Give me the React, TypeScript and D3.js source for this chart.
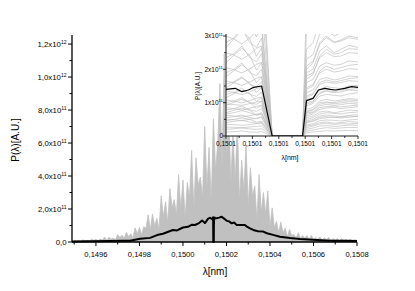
import React from 'react';
import * as d3 from 'd3';

const W = 415;
const H = 291;
const FONT = 'Liberation Sans, Arial, Helvetica, sans-serif';

// ---------- main panel ----------
const mainXTicks = [0.1496, 0.1498, 0.15, 0.1502, 0.1504, 0.1506, 0.1508];
const mainXTickLabels = ['0,1496', '0,1498', '0,1500', '0,1502', '0,1504', '0,1506', '0,1508'];
const mainXMinor = [0.1495, 0.1497, 0.1499, 0.1501, 0.1503, 0.1505, 0.1507];
// values in units of 1e11
const mainYTicks = [0, 2, 4, 6, 8, 10, 12];
const mainYMant = ['0,0', '2,0', '4,0', '6,0', '8,0', '1,0', '1,2'];
const mainYExp = ['', '11', '11', '11', '11', '12', '12'];
const mainYMinor = [1, 3, 5, 7, 9, 11];

// gray single-shot spectrum, sampled from 0.14950 nm every 0.00001 nm (units 1e11)
const grayStart = 0.1495;
const grayStep = 0.00001;
const grayValues = [
  0.12, 0.06, 0.10, 0.04, 0.13, 0.08, 0.10, 0.06, 0.17, 0.10,
  0.16, 0.09, 0.18, 0.12, 0.30, 0.10, 0.29, 0.18, 0.23, 0.14,
  0.45, 0.28, 0.41, 0.24, 0.59, 0.32, 0.50, 0.25, 0.86, 0.50,
  0.88, 0.42, 0.93, 0.83, 1.65, 0.73, 1.70, 0.98, 1.44, 0.78,
  2.80, 1.53, 2.44, 1.19, 3.24, 2.09, 2.57, 1.64, 4.09, 2.00,
  3.76, 1.47, 3.61, 2.68, 5.55, 2.03, 5.10, 3.44, 3.93, 2.72,
  7.00, 3.29, 5.74, 2.40, 7.47, 4.35, 5.98, 9.60, 4.50, 11.40,
  5.00, 8.46, 3.60, 6.72, 3.60, 7.22, 2.52, 4.95, 3.10, 5.90,
  2.22, 4.50, 2.78, 3.40, 1.38, 4.09, 1.82, 3.00, 1.73, 3.10,
  0.91, 2.07, 0.88, 1.24, 0.56, 1.20, 0.54, 0.83, 0.32, 0.76,
  0.40, 0.46, 0.24, 0.56, 0.23, 0.39, 0.23, 0.39, 0.14, 0.39,
  0.16, 0.26, 0.17, 0.30, 0.12, 0.25, 0.15, 0.27, 0.10, 0.20,
  0.12, 0.21, 0.08, 0.21, 0.09, 0.15, 0.09, 0.16, 0.06, 0.14, 0.09,
];

// averaged spectrum (black)
const meanLambda = [
  0.14949, 0.149573, 0.149665, 0.149724, 0.149757, 0.149803, 0.149849, 0.149881, 0.149908, 0.149954,
  0.149973, 0.15, 0.150023, 0.150042, 0.150055, 0.150074, 0.150088, 0.150101, 0.150115, 0.150124,
  0.150133, 0.150136, 0.1501367, 0.1501372, 0.1501377, 0.1501381, 0.1501387, 0.1501395, 0.1501418, 0.1501421,
  0.1501426, 0.150143, 0.1501435, 0.1501439, 0.1501443, 0.150145, 0.1501455, 0.150146, 0.150155, 0.150166,
  0.150178, 0.150189, 0.150201, 0.150212, 0.150224, 0.150235, 0.150247, 0.150262, 0.150285, 0.150294,
  0.150308, 0.150323, 0.150345, 0.150369, 0.150386, 0.150414, 0.150446, 0.150492, 0.150538, 0.150615,
  0.150676, 0.150745, 0.1508,
];
const meanValues = [
  0.03, 0.04, 0.06, 0.08, 0.08, 0.2, 0.25, 0.42, 0.5, 0.73,
  0.7, 0.88, 0.92, 1.05, 1.03, 1.15, 1.3, 1.15, 1.4, 1.47,
  1.4, 1.4, 1.43, 1.33, 1.38, 1.46, 1.5, 0, 0, 1.06,
  1.13, 1.38, 1.43, 1.4, 1.38, 1.43, 1.48, 1.46, 1.44, 1.48,
  1.53, 1.42, 1.29, 1.25, 1.13, 1.18, 1.03, 1.03, 1.03, 0.93,
  0.83, 0.73, 0.65, 0.63, 0.53, 0.43, 0.32, 0.24, 0.18, 0.12,
  0.08, 0.07, 0.06,
];

// ---------- inset ----------
const insetXTicks = [0.150136, 0.150138, 0.15014, 0.150142, 0.150144, 0.150146];
const insetXMinor = [0.150137, 0.150139, 0.150141, 0.150143, 0.150145];
const insetYTicks = [0, 1, 2, 3];
const insetYMant = ['0', '1x10', '2x10', '3x10'];
const insetYExp = ['', '11', '11', '11'];
const insetYMinor = [0.5, 1.5, 2.5];

// wavelengths where individual shots are sampled (gap of zero in between)
const insetNodesLeft = [0.150136, 0.1501366, 0.1501372, 0.1501378, 0.1501383, 0.1501387];
const insetGapStart = 0.1501395;
const insetGapEnd = 0.1501418;
const insetNodesRight = [0.1501421, 0.1501426, 0.1501431, 0.1501436, 0.1501442, 0.1501447, 0.1501453, 0.150146];

const insetGrayLeft = [
  [0.12, 0.13, 0.15, 0.12, 0.11, 0.13],
  [0.20, 0.22, 0.24, 0.21, 0.20, 0.22],
  [0.27, 0.26, 0.25, 0.27, 0.29, 0.30],
  [0.35, 0.34, 0.32, 0.34, 0.37, 0.38],
  [0.40, 0.44, 0.47, 0.42, 0.38, 0.41],
  [0.45, 0.50, 0.54, 0.50, 0.41, 0.45],
  [0.50, 0.49, 0.46, 0.50, 0.53, 0.55],
  [0.55, 0.58, 0.63, 0.55, 0.52, 0.58],
  [0.62, 0.60, 0.57, 0.61, 0.65, 0.67],
  [0.66, 0.70, 0.76, 0.70, 0.62, 0.66],
  [0.70, 0.77, 0.84, 0.77, 0.63, 0.70],
  [0.78, 0.82, 0.90, 0.78, 0.74, 0.82],
  [0.85, 0.82, 0.78, 0.83, 0.89, 0.92],
  [0.92, 1.01, 1.10, 1.01, 0.83, 0.92],
  [0.96, 0.94, 0.92, 0.97, 1.02, 1.04],
  [1.00, 1.05, 1.15, 1.00, 0.95, 1.05],
  [1.08, 1.05, 0.99, 1.06, 1.13, 1.17],
  [1.15, 1.27, 1.38, 1.27, 1.04, 1.15],
  [1.25, 1.31, 1.44, 1.25, 1.19, 1.31],
  [1.35, 1.31, 1.24, 1.32, 1.42, 1.46],
  [1.45, 1.60, 1.74, 1.60, 1.31, 1.45],
  [1.55, 1.63, 1.78, 1.55, 1.47, 1.63],
  [1.65, 1.60, 1.52, 1.62, 1.73, 1.78],
  [1.78, 1.96, 2.14, 1.96, 1.60, 1.78],
  [1.90, 2.00, 2.19, 1.90, 1.81, 2.00],
  [2.05, 1.99, 1.89, 2.01, 2.15, 2.21],
  [2.20, 2.42, 2.64, 2.42, 1.98, 2.20],
  [2.35, 2.47, 2.70, 2.35, 2.23, 2.47],
  [2.50, 2.43, 2.30, 2.45, 2.63, 2.70],
  [2.65, 2.92, 3.18, 2.92, 2.39, 2.65],
  [2.80, 2.94, 3.22, 2.80, 2.66, 2.94],
  [3.00, 2.91, 2.76, 2.94, 3.15, 3.24],
  [3.30, 3.63, 3.96, 3.63, 2.97, 3.30],
  [3.80, 3.99, 4.37, 3.80, 3.61, 3.99],
  [4.50, 4.37, 4.14, 4.41, 4.73, 4.86],
  [5.50, 6.05, 6.60, 6.05, 4.95, 5.50],
];
const insetGrayRight = [
  [0.10, 0.12, 0.14, 0.16, 0.15, 0.16, 0.17, 0.16],
  [0.15, 0.18, 0.22, 0.25, 0.23, 0.24, 0.26, 0.25],
  [0.20, 0.24, 0.30, 0.31, 0.29, 0.30, 0.33, 0.32],
  [0.30, 0.33, 0.40, 0.42, 0.38, 0.40, 0.43, 0.41],
  [0.33, 0.37, 0.46, 0.48, 0.47, 0.45, 0.48, 0.50],
  [0.25, 0.30, 0.36, 0.38, 0.35, 0.37, 0.36, 0.38],
  [0.42, 0.46, 0.56, 0.58, 0.55, 0.57, 0.60, 0.58],
  [0.45, 0.50, 0.60, 0.63, 0.60, 0.58, 0.62, 0.64],
  [0.40, 0.44, 0.52, 0.55, 0.57, 0.54, 0.56, 0.60],
  [0.50, 0.55, 0.66, 0.70, 0.68, 0.66, 0.70, 0.72],
  [0.55, 0.60, 0.72, 0.75, 0.70, 0.73, 0.78, 0.76],
  [0.60, 0.66, 0.80, 0.84, 0.86, 0.82, 0.85, 0.88],
  [0.70, 0.72, 0.90, 0.95, 0.92, 0.94, 0.98, 0.96],
  [0.65, 0.70, 0.85, 0.88, 0.90, 0.87, 0.90, 0.93],
  [0.72, 0.78, 0.95, 1.00, 0.97, 0.99, 1.03, 1.01],
  [0.80, 0.86, 1.05, 1.10, 1.05, 1.08, 1.12, 1.10],
  [0.75, 0.80, 1.00, 1.02, 1.00, 1.04, 1.08, 1.06],
  [0.90, 0.98, 1.20, 1.25, 1.22, 1.20, 1.26, 1.30],
  [1.00, 1.05, 1.28, 1.35, 1.30, 1.32, 1.38, 1.36],
  [1.10, 1.15, 1.40, 1.48, 1.45, 1.42, 1.50, 1.52],
  [0.95, 1.02, 1.30, 1.36, 1.33, 1.38, 1.40, 1.42],
  [1.20, 1.28, 1.55, 1.62, 1.58, 1.60, 1.66, 1.64],
  [1.30, 1.38, 1.70, 1.75, 1.68, 1.72, 1.80, 1.78],
  [1.15, 1.25, 1.60, 1.68, 1.62, 1.66, 1.72, 1.75],
  [1.45, 1.55, 1.90, 2.00, 1.92, 1.95, 2.02, 2.00],
  [1.60, 1.70, 2.10, 2.20, 2.12, 2.15, 2.25, 2.22],
  [1.40, 1.50, 1.95, 2.10, 2.00, 2.05, 2.12, 2.15],
  [1.80, 1.90, 2.35, 2.50, 2.38, 2.40, 2.50, 2.48],
  [1.90, 2.00, 2.55, 2.70, 2.50, 2.60, 2.72, 2.66],
  [1.70, 1.85, 2.40, 2.60, 2.45, 2.50, 2.62, 2.60],
  [2.10, 2.25, 2.80, 3.00, 2.82, 2.88, 3.00, 2.95],
  [2.30, 2.45, 3.05, 3.20, 3.00, 3.10, 3.25, 3.20],
  [2.00, 2.20, 2.75, 2.95, 2.80, 2.85, 2.95, 2.90],
  [2.60, 2.80, 3.50, 3.70, 3.50, 3.60, 3.75, 3.70],
  [3.20, 3.40, 4.20, 4.40, 4.20, 4.30, 4.50, 4.40],
  [4.00, 4.30, 5.20, 5.50, 5.20, 5.40, 5.60, 5.50],
];

const GRAY = '#c0c0c0';

export default function App() {
  const x = d3.scaleLinear().domain([0.14949, 0.1508]).range([72, 357]);
  const y = d3.scaleLinear().domain([0, 12.55]).range([242, 35]);
  const ix = d3.scaleLinear().domain([0.150136, 0.150146]).range([226, 358]);
  const iy = d3.scaleLinear().domain([0, 3.06]).range([136, 34]);

  const grayPts: [number, number][] = grayValues.map((v, i) => [grayStart + i * grayStep, v]);
  const grayArea = d3
    .area<[number, number]>()
    .x((d) => x(d[0]))
    .y0(y(0))
    .y1((d) => y(d[1]))(grayPts) as string;
  const grayLine = d3
    .line<[number, number]>()
    .x((d) => x(d[0]))
    .y((d) => y(d[1]))(grayPts) as string;

  const meanPts: [number, number][] = meanLambda.map((l, i) => [l, meanValues[i]]);
  const meanLine = d3
    .line<[number, number]>()
    .x((d) => x(d[0]))
    .y((d) => y(d[1]))(meanPts) as string;
  const insetMeanLine = d3
    .line<[number, number]>()
    .x((d) => ix(d[0]))
    .y((d) => iy(d[1]))(meanPts) as string;

  const insetNodes = [...insetNodesLeft, insetGapStart, insetGapEnd, ...insetNodesRight];
  const insetPaths = insetGrayLeft.map((left, j) => {
    const vals = [...left, 0, 0, ...insetGrayRight[j]];
    const pts: [number, number][] = insetNodes.map((l, k) => [l, vals[k]]);
    return d3
      .line<[number, number]>()
      .x((d) => ix(d[0]))
      .y((d) => iy(d[1]))(pts) as string;
  });

  const [ix0, ix1] = ix.range();
  const [iy0, iy1] = iy.range();

  return (
    <svg
      width={W}
      height={H}
      viewBox={`0 0 ${W} ${H}`}
      style={{ position: 'absolute', left: 0, top: 0, background: '#fff' }}
      fontFamily={FONT}
    >
      <defs>
        <clipPath id="insetClip">
          <rect x={ix0} y={iy1} width={ix1 - ix0} height={iy0 - iy1} />
        </clipPath>
      </defs>
      <rect x={0} y={0} width={W} height={H} fill="#fff" />

      {/* main data */}
      <path d={grayArea} fill={GRAY} stroke="none" />
      <path d={grayLine} fill="none" stroke={GRAY} strokeWidth={0.8} />
      <path d={meanLine} fill="none" stroke="#000" strokeWidth={2} strokeLinejoin="round" />

      {/* main axes */}
      <line x1={x.range()[0]} x2={x.range()[1]} y1={y(0)} y2={y(0)} stroke="#000" strokeWidth={1.3} />
      <line x1={x.range()[0]} x2={x.range()[0]} y1={y(0)} y2={y.range()[1]} stroke="#000" strokeWidth={1.3} />
      {mainXTicks.map((t, i) => (
        <g key={'mx' + i}>
          <line x1={x(t)} x2={x(t)} y1={y(0)} y2={y(0) + 4} stroke="#000" strokeWidth={1} />
          <text x={x(t)} y={256.5} fontSize={7.6} textAnchor="middle" fill="#000">
            {mainXTickLabels[i]}
          </text>
        </g>
      ))}
      {mainXMinor.map((t, i) => (
        <line key={'mxm' + i} x1={x(t)} x2={x(t)} y1={y(0)} y2={y(0) + 2.5} stroke="#000" strokeWidth={1} />
      ))}
      {mainYTicks.map((t, i) => (
        <g key={'my' + i}>
          <line x1={x.range()[0] - 4} x2={x.range()[0]} y1={y(t)} y2={y(t)} stroke="#000" strokeWidth={1} />
          <text x={66.5} y={y(t) + 3} fontSize={7.8} textAnchor="end" fill="#000">
            {mainYMant[i]}
            {mainYExp[i] ? 'x10' : ''}
            {mainYExp[i] ? (
              <tspan dy={-3.5} fontSize={5}>
                {mainYExp[i]}
              </tspan>
            ) : null}
          </text>
        </g>
      ))}
      {mainYMinor.map((t, i) => (
        <line key={'mym' + i} x1={x.range()[0] - 2.5} x2={x.range()[0]} y1={y(t)} y2={y(t)} stroke="#000" strokeWidth={1} />
      ))}
      <text x={0} y={0} fontSize={10} textAnchor="middle" transform="translate(19,140) rotate(-90)" fill="#000">
        P(λ)[A.U.]
      </text>
      <text x={215} y={275} fontSize={10} textAnchor="middle" fill="#000">
        λ[nm]
      </text>

      {/* inset */}
      <rect x={ix0} y={iy1} width={ix1 - ix0} height={iy0 - iy1} fill="#fff" />
      <g clipPath="url(#insetClip)">
        {insetPaths.map((d, j) => (
          <path key={'ig' + j} d={d} fill="none" stroke={GRAY} strokeWidth={0.7} />
        ))}
        <path d={insetMeanLine} fill="none" stroke="#000" strokeWidth={1.2} strokeLinejoin="round" />
      </g>
      <line x1={ix0} x2={ix1} y1={iy0} y2={iy0} stroke="#000" strokeWidth={0.9} />
      <line x1={ix0} x2={ix0} y1={iy0} y2={iy1} stroke="#000" strokeWidth={0.9} />
      {insetXTicks.map((t, i) => (
        <g key={'ix' + i}>
          <line x1={ix(t)} x2={ix(t)} y1={iy0} y2={iy0 + 3} stroke="#000" strokeWidth={0.8} />
          <text x={ix(t)} y={145.5} fontSize={6.5} textAnchor="middle" fill="#000">
            {d3.format('.4f')(t).replace('.', ',')}
          </text>
        </g>
      ))}
      {insetXMinor.map((t, i) => (
        <line key={'ixm' + i} x1={ix(t)} x2={ix(t)} y1={iy0} y2={iy0 + 2} stroke="#000" strokeWidth={0.8} />
      ))}
      {insetYTicks.map((t, i) => (
        <g key={'iy' + i}>
          <line x1={ix0 - 3} x2={ix0} y1={iy(t)} y2={iy(t)} stroke="#000" strokeWidth={0.8} />
          <text x={223} y={iy(t) + 2.3} fontSize={6.5} textAnchor="end" fill="#000">
            {insetYMant[i]}
            {insetYExp[i] ? (
              <tspan dy={-2.8} fontSize={4.3}>
                {insetYExp[i]}
              </tspan>
            ) : null}
          </text>
        </g>
      ))}
      {insetYMinor.map((t, i) => (
        <line key={'iym' + i} x1={ix0 - 2} x2={ix0} y1={iy(t)} y2={iy(t)} stroke="#000" strokeWidth={0.8} />
      ))}
      <text x={0} y={0} fontSize={6.5} textAnchor="middle" transform="translate(200,86) rotate(-90)" fill="#000">
        P(λ)[A.U.]
      </text>
      <text x={290} y={160} fontSize={7} textAnchor="middle" fill="#000">
        λ[nm]
      </text>
    </svg>
  );
}
